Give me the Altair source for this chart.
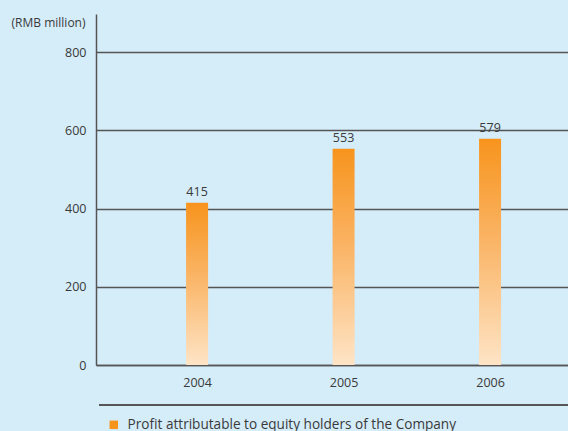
import altair as alt
import pandas as pd

years = [2004, 2005, 2006]
profits = [415, 553, 579]
series_name = "Profit attributable to equity holders of the Company"
y_ticks = [0, 200, 400, 600, 800]

df = pd.DataFrame({"year": years, "profit": profits})
legend_df = pd.DataFrame({"series": [series_name], "year": [years[0]], "profit": [0]})

x_scale = alt.Scale(domain=[2003.31, 2006.532], nice=False, zero=False, padding=0)
y_scale = alt.Scale(domain=[0, 898], nice=False)

gradient = alt.Gradient(
    gradient="linear",
    stops=[
        alt.GradientStop(color="#F7941D", offset=0),
        alt.GradientStop(color="#FAB465", offset=0.45),
        alt.GradientStop(color="#FEE4C6", offset=1),
    ],
    x1=0, x2=0, y1=0, y2=1,
)

FONT = "Open Sans"
TXT = "#3a3a3a"

x_enc = alt.X(
    "year:Q",
    scale=x_scale,
    axis=alt.Axis(
        values=years, format="d", title=None, grid=False, ticks=False,
        domain=True, domainColor="#555555", domainWidth=1.5,
        labelFontSize=12.5, labelColor=TXT, labelPadding=11,
        labelFont=FONT,
    ),
)
y_enc = alt.Y(
    "profit:Q",
    scale=y_scale,
    axis=alt.Axis(
        values=y_ticks, title="(RMB million)", titleAngle=0, titleAlign="right",
        titleBaseline="middle", titleX=-11, titleY=8, titleFontSize=12,
        titleFontWeight="normal", titleColor=TXT, titleFont=FONT,
        grid=True, gridColor="#555555", gridWidth=1.5, ticks=False,
        domain=True, domainColor="#555555", domainWidth=1.5,
        labelFontSize=12.5, labelColor=TXT, labelPadding=10,
        labelFont=FONT,
    ),
)

bars = alt.Chart(df).mark_bar(size=22, color=gradient).encode(x=x_enc, y=y_enc)

labels = alt.Chart(df).mark_text(
    dy=-4, baseline="bottom", fontSize=12.5, color=TXT, font=FONT
).encode(x="year:Q", y="profit:Q", text="profit:Q")

legend_layer = alt.Chart(legend_df).mark_square(opacity=0).encode(
    x="year:Q",
    y="profit:Q",
    color=alt.Color(
        "series:N",
        scale=alt.Scale(range=["#F7941D"]),
        legend=alt.Legend(
            title=None, orient="none", legendX=11, legendY=404,
            symbolType="square", symbolSize=72, symbolOpacity=1,
            symbolStrokeWidth=0, labelFontSize=13.6, labelColor=TXT,
            labelFont=FONT, labelOffset=7, labelLimit=0,
        ),
    ),
)

separator = alt.Chart(df).mark_rule(color="#555555", strokeWidth=1.5).encode(
    x=alt.value(3), x2=alt.value(472), y=alt.value(391)
)

chart = (
    alt.layer(bars, labels, legend_layer, separator)
    .properties(
        width=472, height=351,
        autosize=alt.AutoSizeParams(type="none"),
        padding={"left": 96, "top": 14, "right": 0, "bottom": 66},
        background="#D5ECF9",
    )
    .configure_view(stroke=None)
)

chart.save("out.html", embed_options={"renderer": "svg", "actions": False})
